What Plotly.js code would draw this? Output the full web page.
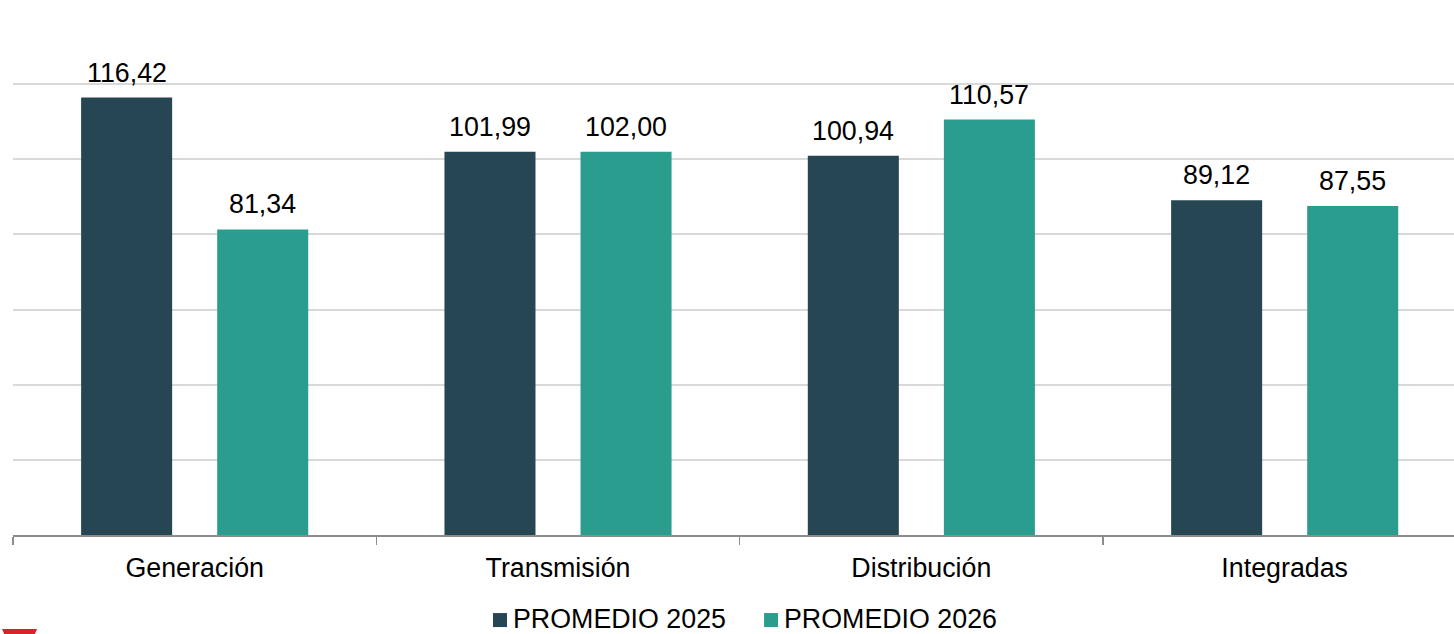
<!DOCTYPE html>
<html>
<head>
<meta charset="utf-8">
<script src="https://cdn.plot.ly/plotly-3.0.1.min.js"></script>
<style>html,body{margin:0;padding:0;background:#fff;}#chart{width:1454px;height:634px;}</style>
</head>
<body>
<div id="chart"></div>
<script>
const categories = ["Generación", "Transmisión", "Distribución", "Integradas"];
const seriesNames = ["PROMEDIO 2025", "PROMEDIO 2026"];
const promedio2025 = [116.42, 101.99, 100.94, 89.12];
const promedio2026 = [81.34, 102.00, 110.57, 87.55];
const colors = ["#264653", "#2a9d8f"];

const fmt = v => v.toFixed(2).replace('.', ',');
const FONT = 'Liberation Sans, Arial, sans-serif';
const FS = 26.8;

const traces = [promedio2025, promedio2026].map((vals, i) => ({
  type: 'bar',
  name: seriesNames[i],
  x: categories,
  y: vals,
  marker: {color: colors[i]},
  hoverinfo: 'skip',
  showlegend: false
}));

// value labels as annotations positioned from data
const offsets = [-0.1875, 0.1875];
const annotations = [];
[promedio2025, promedio2026].forEach((vals, i) => {
  vals.forEach((v, j) => {
    annotations.push({
      x: j + offsets[i], y: v, xref: 'x', yref: 'y',
      text: fmt(v), showarrow: false,
      yanchor: 'bottom', yshift: 8,
      font: {family: FONT, size: FS, color: '#000'}
    });
  });
});

// custom legend (square markers + text)
const legendSquareX = [0.3331, 0.5212];
const legendTextX = [0.3463, 0.5344];
const shapes = [];
seriesNames.forEach((name, i) => {
  shapes.push({
    type: 'rect', xref: 'paper', yref: 'paper',
    x0: legendSquareX[i], x1: legendSquareX[i] + 0.0097,
    y0: -0.1750, y1: -0.1484,
    fillcolor: colors[i], line: {width: 0}
  });
  annotations.push({
    x: legendTextX[i], y: -0.1597, xref: 'paper', yref: 'paper',
    xanchor: 'left', yanchor: 'middle', showarrow: false,
    text: name, borderpad: 0, height: 24, valign: 'middle',
    font: {family: FONT, size: FS, color: '#000'}
  });
});
// partially visible red logo at the bottom-left corner
shapes.push({
  type: 'path', xref: 'paper', yref: 'paper',
  path: 'M -0.0076 -0.1787 L 0.0167 -0.1787 L 0.0146 -0.1920 L -0.0056 -0.1920 Z',
  fillcolor: '#d9232a', line: {width: 0}
});

const layout = {
  width: 1454, height: 634,
  margin: {l: 13, r: 0, t: 9, b: 99},
  paper_bgcolor: '#fff', plot_bgcolor: '#fff',
  barmode: 'group',
  bargap: 0.251,
  bargroupgap: 0.331,
  font: {family: FONT, size: FS, color: '#000'},
  xaxis: {
    type: 'category',
    range: [-0.5, 3.466],
    tickson: 'boundaries',
    ticks: 'outside', ticklen: 8, tickcolor: '#8c8c8c', tickwidth: 1.5,
    showline: true, linecolor: '#8c8c8c', linewidth: 1.5,
    showgrid: false,
    ticklabelstandoff: 8,
    automargin: false,
    tickfont: {family: FONT, size: FS, color: '#000'},
    fixedrange: true
  },
  yaxis: {
    range: [0, 140], dtick: 20,
    showticklabels: false, ticks: '',
    showgrid: true, gridcolor: '#d9d9d9', gridwidth: 2,
    zeroline: false, showline: false,
    automargin: false,
    fixedrange: true
  },
  showlegend: false,
  annotations: annotations,
  shapes: shapes
};

Plotly.newPlot('chart', traces, layout, {displayModeBar: false, staticPlot: true});
</script>
</body>
</html>
